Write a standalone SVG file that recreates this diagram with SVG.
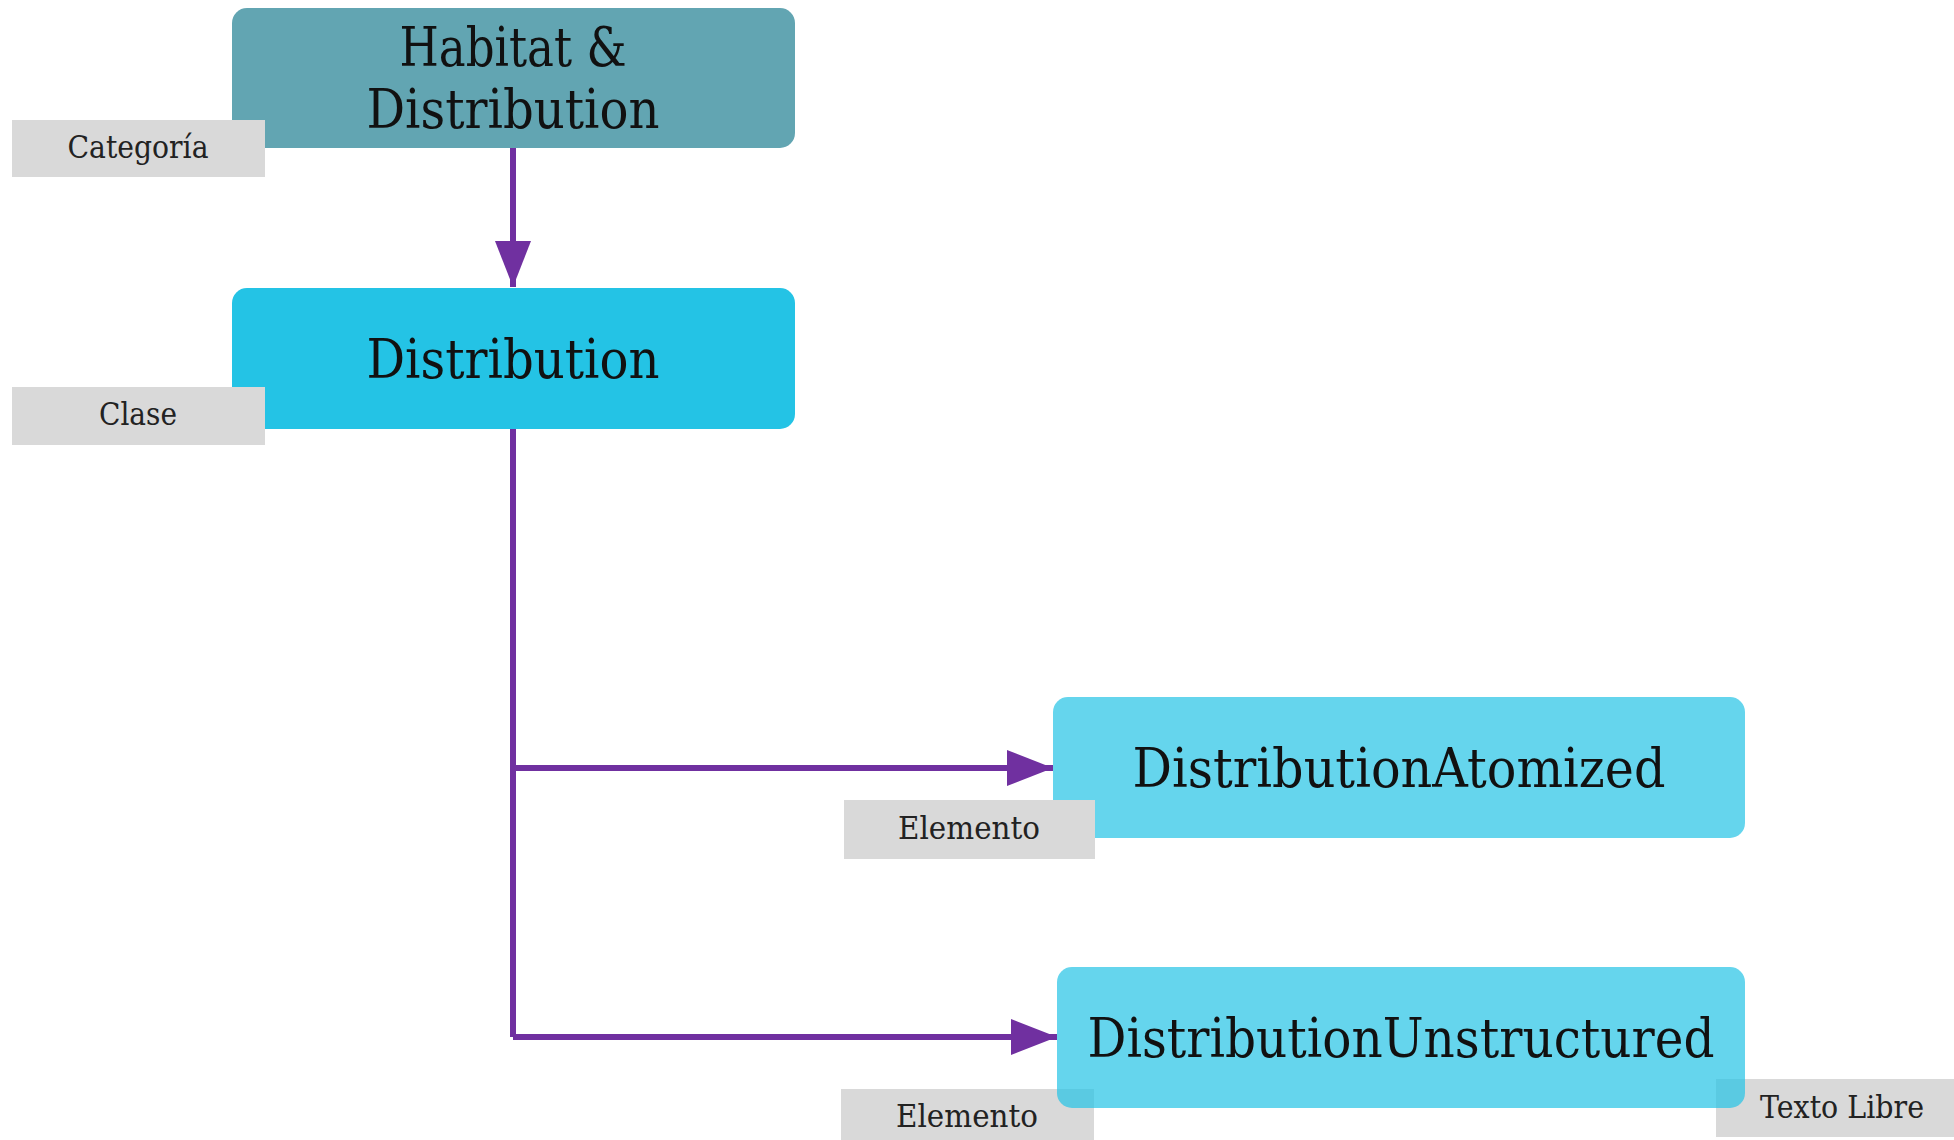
<svg xmlns="http://www.w3.org/2000/svg" width="1954" height="1140" viewBox="0 0 1954 1140">
<style>
.big{font-family:"DejaVu Serif","Liberation Serif",serif;font-size:54px;fill:#111;text-anchor:middle}
.lbl{font-family:"DejaVu Serif","Liberation Serif",serif;font-size:31px;fill:#222;text-anchor:middle}
.tag{fill:#d9d9d9}
.conn{stroke:#7030a0;stroke-width:6;fill:none}
</style>
<defs>
<marker id="arr" markerUnits="userSpaceOnUse" markerWidth="48" markerHeight="38" refX="46" refY="18" orient="auto" viewBox="0 0 48 38">
<path d="M0,0 L46,18 L0,36 z" fill="#7030a0"/>
</marker>
</defs>
<rect width="1954" height="1140" fill="#ffffff"/>
<g id="connectors">
<path class="conn" d="M513,148 L513,287" marker-end="url(#arr)"/>
<path class="conn" d="M513,429 L513,1037"/>
<path class="conn" d="M513,768 L1053,768" marker-end="url(#arr)"/>
<path class="conn" d="M513,1037 L1057,1037" marker-end="url(#arr)"/>
</g>
<g id="node-habitat">
<rect x="232" y="8" width="563" height="140" rx="15" fill="#62a5b2"/>
<text class="big" x="513" y="66" textLength="227" lengthAdjust="spacingAndGlyphs">Habitat &amp;</text>
<text class="big" x="513" y="128" textLength="293" lengthAdjust="spacingAndGlyphs">Distribution</text>
<rect class="tag" x="12" y="120" width="253" height="57"/>
<text class="lbl" x="138" y="158" textLength="141" lengthAdjust="spacingAndGlyphs">Categoría</text>
</g>
<g id="node-distribution">
<rect x="232" y="288" width="563" height="141" rx="15" fill="#24c3e5"/>
<text class="big" x="513" y="378" textLength="293" lengthAdjust="spacingAndGlyphs">Distribution</text>
<rect class="tag" x="12" y="387" width="253" height="58"/>
<text class="lbl" x="138" y="425" textLength="78" lengthAdjust="spacingAndGlyphs">Clase</text>
</g>
<g id="node-atomized">
<rect x="1053" y="697" width="692" height="141" rx="15" fill="#24c3e5" fill-opacity="0.7"/>
<text class="big" x="1399" y="787" textLength="533" lengthAdjust="spacingAndGlyphs">DistributionAtomized</text>
<rect class="tag" x="844" y="800" width="251" height="59"/>
<text class="lbl" x="969" y="839" textLength="142" lengthAdjust="spacingAndGlyphs">Elemento</text>
</g>
<g id="node-unstructured">
<rect class="tag" x="841" y="1089" width="253" height="58"/>
<text class="lbl" x="967" y="1127" textLength="142" lengthAdjust="spacingAndGlyphs">Elemento</text>
<rect class="tag" x="1716" y="1079" width="238" height="58"/>
<text class="lbl" x="1842" y="1118" textLength="164" lengthAdjust="spacingAndGlyphs">Texto Libre</text>
<rect x="1057" y="967" width="688" height="141" rx="15" fill="#24c3e5" fill-opacity="0.7"/>
<text class="big" x="1401" y="1057" textLength="627" lengthAdjust="spacingAndGlyphs">DistributionUnstructured</text>
</g>
</svg>
